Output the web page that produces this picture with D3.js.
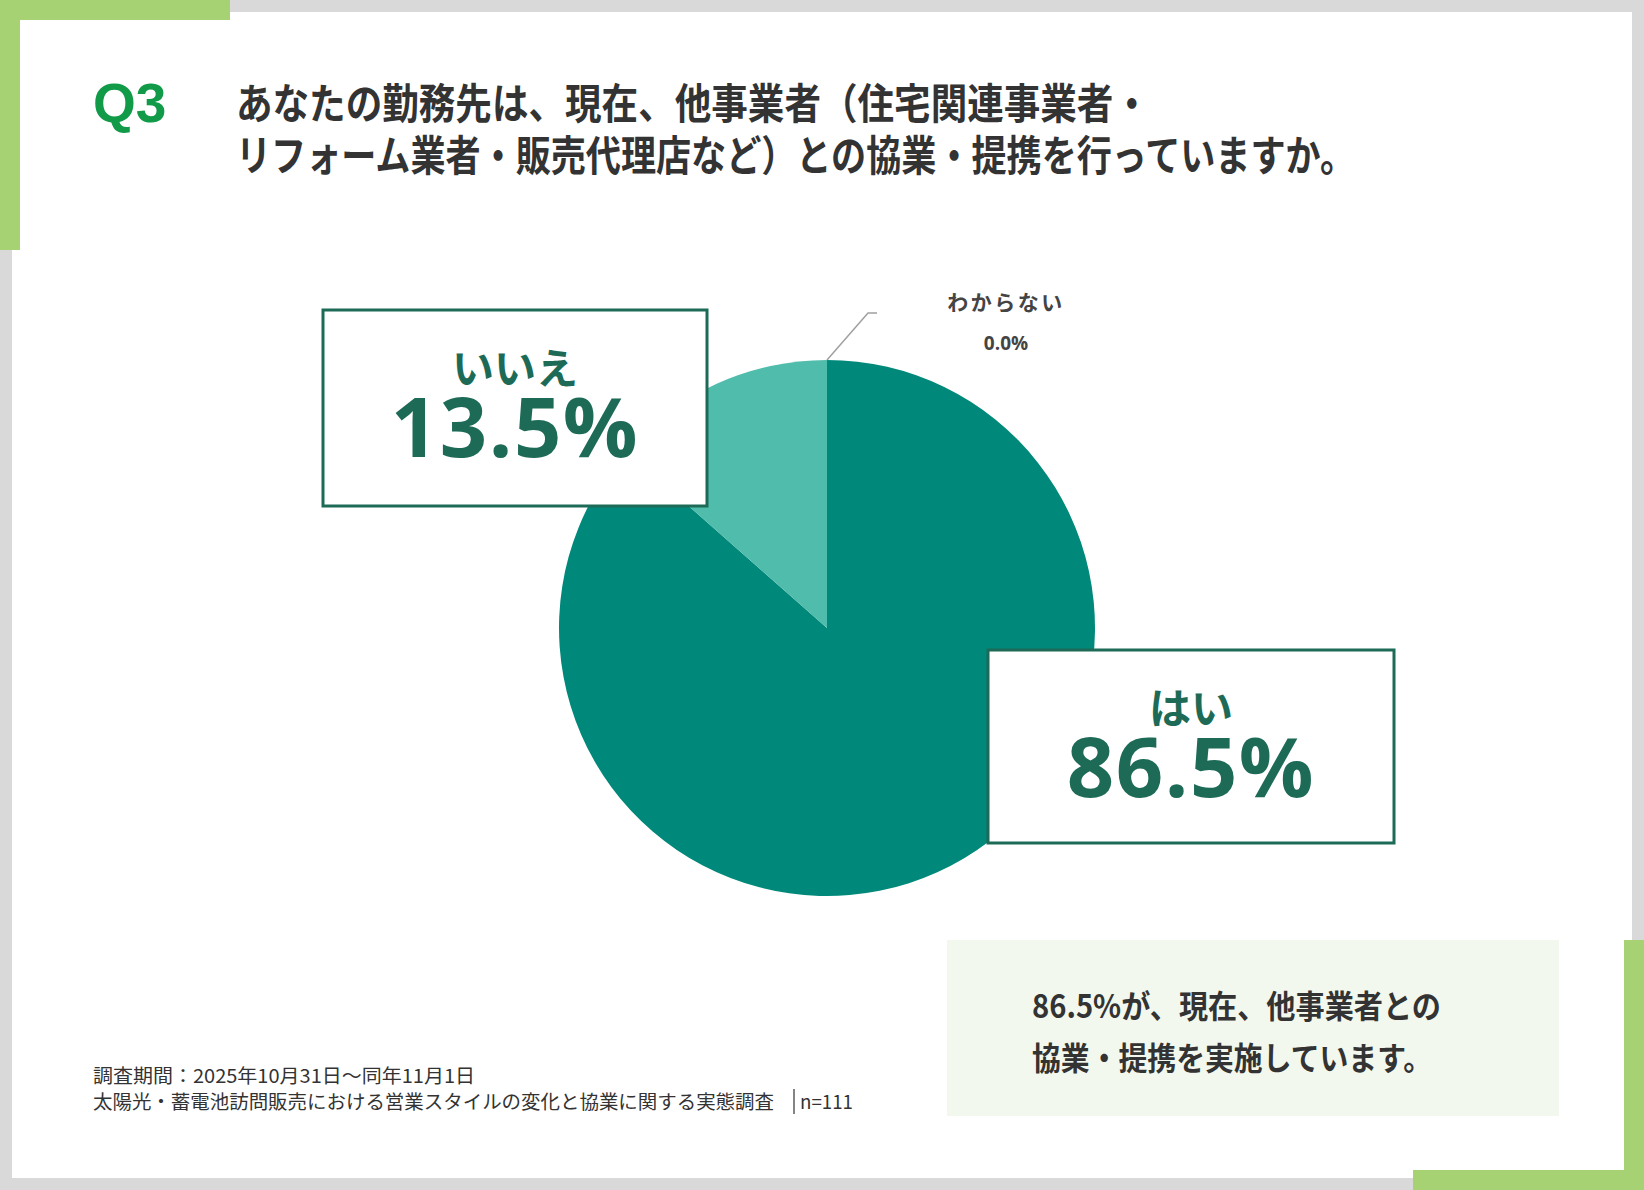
<!DOCTYPE html>
<html>
<head>
<meta charset="utf-8">
<script src="https://cdn.jsdelivr.net/npm/d3@7"></script>
<style>
  html, body { margin: 0; padding: 0; background: #d9d9d9; }
  svg { display: block; }
</style>
</head>
<body>
<div id="vis"></div>
<script>
// data
const categories = ["はい", "いいえ", "わからない"];
const values = [86.5, 13.5, 0.0];
const titleLines = [
  "あなたの勤務先は、現在、他事業者（住宅関連事業者・",
  "リフォーム業者・販売代理店など）との協業・提携を行っていますか。"
];
const commentLines = [
  "86.5%が、現在、他事業者との",
  "協業・提携を実施しています。"
];
const footerLines = [
  "調査期間：2025年10月31日～同年11月1日",
  "太陽光・蓄電池訪問販売における営業スタイルの変化と協業に関する実態調査"
];
const sampleLabel = "n=111";

const W = 1644, H = 1190;
const green = "#a6d273";
const jp = "'Noto Sans CJK JP', 'Noto Sans', sans-serif";
const num = "'Open Sans', 'Noto Sans', sans-serif";
const dark = "#1d6b56";
const sliceColors = ["#00897a", "#50bcab", "#9e9e9e"];

const svg = d3.select("#vis").append("svg")
  .attr("width", W)
  .attr("height", H);

// frame
svg.append("rect").attr("width", W).attr("height", H).attr("fill", "#d9d9d9");
svg.append("rect").attr("x", 12).attr("y", 12).attr("width", 1620).attr("height", 1166).attr("fill", "#fff");
svg.append("rect").attr("x", 0).attr("y", 0).attr("width", 230).attr("height", 20).attr("fill", green);
svg.append("rect").attr("x", 0).attr("y", 0).attr("width", 20).attr("height", 250).attr("fill", green);
svg.append("rect").attr("x", 1413).attr("y", 1170).attr("width", 231).attr("height", 20).attr("fill", green);
svg.append("rect").attr("x", 1624).attr("y", 940).attr("width", 20).attr("height", 250).attr("fill", green);

// title
svg.append("text")
  .attr("x", 93).attr("y", 122)
  .attr("font-family", "'Liberation Sans', Arial, sans-serif")
  .attr("font-weight", "bold")
  .attr("font-size", 55)
  .attr("fill", "#119a48")
  .text("Q3");

const titleWidths = [914, 1119];
svg.selectAll(".title")
  .data(titleLines)
  .enter()
  .append("text")
  .attr("class", "title")
  .attr("x", 236)
  .attr("y", (d, i) => 119 + i * 52)
  .attr("font-family", jp)
  .attr("font-weight", "bold")
  .attr("font-size", 42)
  .attr("fill", "#333")
  .attr("textLength", (d, i) => titleWidths[i])
  .attr("lengthAdjust", "spacingAndGlyphs")
  .text(d => d);

// pie
const cx = 827, cy = 628, radius = 268;
const pie = d3.pie().sort(null).value(d => d.value);
const arc = d3.arc().innerRadius(0).outerRadius(radius);
const pieData = pie(categories.map((c, i) => ({ name: c, value: values[i] })));

const g = svg.append("g").attr("transform", `translate(${cx},${cy})`);
g.selectAll(".slice")
  .data(pieData)
  .enter()
  .append("path")
  .attr("class", "slice")
  .attr("d", arc)
  .attr("fill", (d, i) => sliceColors[i]);

const fmt = d3.format(".1f");

// leader line for the zero slice
const zero = pieData[2];
const ang = (zero.startAngle + zero.endAngle) / 2;
const p0 = [Math.sin(ang) * radius, -Math.cos(ang) * radius];
const p1 = [p0[0] + 41, p0[1] - 47];
const p2 = [p1[0] + 9, p1[1]];
g.append("polyline")
  .attr("points", [p0, p1, p2].map(p => p.join(",")).join(" "))
  .attr("fill", "none")
  .attr("stroke", "#a0a0a0")
  .attr("stroke-width", 1.5);

g.append("text")
  .attr("x", p2[0] + 129).attr("y", p2[1] - 3)
  .attr("text-anchor", "middle")
  .attr("font-family", jp)
  .attr("font-weight", "bold")
  .attr("font-size", 21)
  .attr("letter-spacing", 2.5)
  .attr("fill", "#444")
  .text(zero.data.name);
g.append("text")
  .attr("x", p2[0] + 129).attr("y", p2[1] + 37)
  .attr("text-anchor", "middle")
  .attr("font-family", num)
  .attr("font-weight", "bold")
  .attr("font-size", 19)
  .attr("fill", "#444")
  .text(fmt(zero.data.value) + "%");

// boxed labels
const boxes = [
  { i: 0, x: 988, y: 650, w: 406, h: 193 },
  { i: 1, x: 323, y: 310, w: 384, h: 196 }
];
boxes.forEach(b => {
  const d = pieData[b.i];
  const mid = b.x + b.w / 2;
  svg.append("rect")
    .attr("x", b.x).attr("y", b.y)
    .attr("width", b.w).attr("height", b.h)
    .attr("fill", "#fff")
    .attr("stroke", dark)
    .attr("stroke-width", 3);
  svg.append("text")
    .attr("x", mid).attr("y", b.y + 74)
    .attr("text-anchor", "middle")
    .attr("font-family", jp)
    .attr("font-weight", "bold")
    .attr("font-size", 42)
    .attr("fill", dark)
    .text(d.data.name);
  svg.append("text")
    .attr("x", mid).attr("y", b.y + 147)
    .attr("text-anchor", "middle")
    .attr("font-family", num)
    .attr("font-weight", "bold")
    .attr("font-size", 83)
    .attr("letter-spacing", 1.5)
    .attr("fill", dark)
    .text(fmt(d.data.value) + "%");
});

// comment box
svg.append("rect")
  .attr("x", 947).attr("y", 940)
  .attr("width", 612).attr("height", 176)
  .attr("fill", "#f3f8ee");
const commentWidths = [409, 400];
svg.selectAll(".comment")
  .data(commentLines)
  .enter()
  .append("text")
  .attr("class", "comment")
  .attr("x", 1032)
  .attr("y", (d, i) => 1018 + i * 52)
  .attr("font-family", jp)
  .attr("font-weight", "bold")
  .attr("font-size", 32)
  .attr("fill", "#333")
  .attr("textLength", (d, i) => commentWidths[i])
  .attr("lengthAdjust", "spacingAndGlyphs")
  .text(d => d);

// footer
const footerWidths = [382, 681];
svg.selectAll(".footer")
  .data(footerLines)
  .enter()
  .append("text")
  .attr("class", "footer")
  .attr("x", 93)
  .attr("y", (d, i) => 1083 + i * 26)
  .attr("font-family", jp)
  .attr("font-size", 19)
  .attr("fill", "#333")
  .attr("textLength", (d, i) => footerWidths[i])
  .attr("lengthAdjust", "spacingAndGlyphs")
  .text(d => d);
svg.append("line")
  .attr("x1", 794).attr("x2", 794)
  .attr("y1", 1089).attr("y2", 1114)
  .attr("stroke", "#333").attr("stroke-width", 1.2);
svg.append("text")
  .attr("x", 800).attr("y", 1109)
  .attr("font-family", jp)
  .attr("font-size", 19)
  .attr("fill", "#333")
  .attr("textLength", 53)
  .attr("lengthAdjust", "spacingAndGlyphs")
  .text(sampleLabel);
</script>
</body>
</html>
